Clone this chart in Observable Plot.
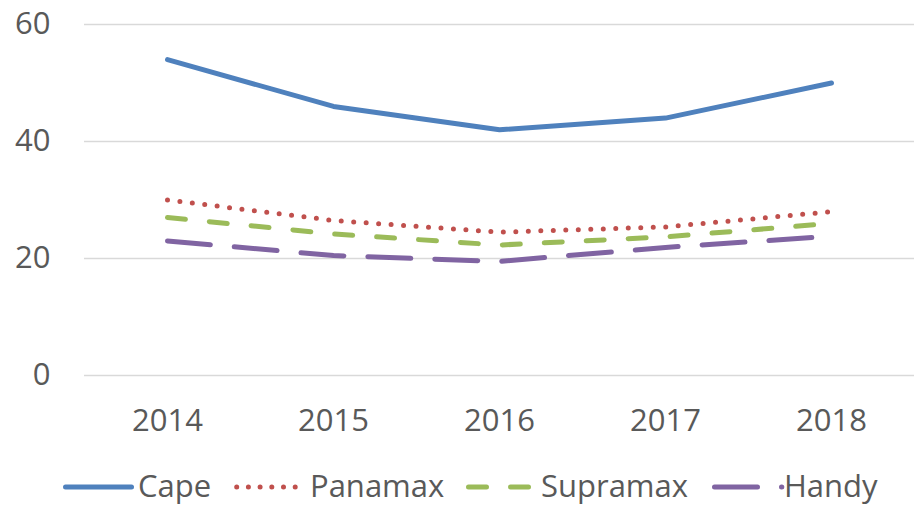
<!DOCTYPE html>
<html><head><meta charset="utf-8">
<script src="https://cdn.jsdelivr.net/npm/d3@7"></script>
<script src="https://cdn.jsdelivr.net/npm/@observablehq/plot@0.6"></script>
<style>
body{margin:0;background:#fff;font-family:"Open Sans",sans-serif;}
#chart{width:914px;}
#legend{display:block;}
</style></head><body><div id="chart"></div>
<script>
const years = ["2014","2015","2016","2017","2018"];
const seriesNames = ["Cape","Panamax","Supramax","Handy"];
const cape = [54, 46, 42, 44, 50];
const panamax = [30, 26.5, 24.5, 25.4, 28];
const supramax = [27, 24.2, 22.3, 23.7, 26];
const handy = [23, 20.5, 19.5, 21.9, 23.8];
const yTicks = [0, 20, 40, 60];

const seriesValues = [cape, panamax, supramax, handy];
const colors = ["#4f81bd", "#c0504d", "#9bbb59", "#8064a2"];
const dashes = [null, "0 12.5", "18 24", "43 24"];

const data = [];
seriesNames.forEach((s, i) => years.forEach((y, j) => data.push({series: s, year: y, value: seriesValues[i][j]})));

const font = '"Open Sans", sans-serif';
const chart = Plot.plot({
  width: 914,
  height: 455,
  marginTop: 24,
  marginBottom: 80,
  marginLeft: 84,
  marginRight: 0,
  style: {fontFamily: font, fontSize: "31px", color: "#595959", background: "#fff"},
  x: {type: "point", domain: years, padding: 0.5},
  y: {domain: [0, 60]},
  marks: [
    Plot.gridY(yTicks, {stroke: "#d9d9d9", strokeOpacity: 1, strokeWidth: 1.5}),
    Plot.axisY(yTicks, {tickSize: 0, tickPadding: 34, label: null, fontSize: 31}),
    Plot.axisX({tickSize: 0, tickPadding: 33, label: null, fontSize: 31}),
    ...seriesNames.map((s, i) => Plot.line(data.filter(d => d.series === s), {
      x: "year", y: "value", stroke: colors[i], strokeWidth: 5,
      strokeDasharray: dashes[i], strokeLinecap: "round", strokeLinejoin: "round",
      curve: "linear"
    }))
  ]
});
document.getElementById("chart").appendChild(chart);

// Legend below the chart
const legendItems = [
  {x1: 65.5, x2: 131.5, tx: 138},
  {x1: 236.7, x2: 295.3, tx: 310},
  {x1: 468.5, x2: 528.5, tx: 541},
  {x1: 714.5, x2: 781.8, tx: 784}
];
const svg = d3.select("#chart").append("svg")
  .attr("id", "legend").attr("width", 914).attr("height", 50)
  .style("font-family", font);
seriesNames.forEach((s, i) => {
  const it = legendItems[i];
  const ln = svg.append("line").attr("x1", it.x1).attr("x2", it.x2).attr("y1", 32).attr("y2", 32)
    .attr("stroke", colors[i]).attr("stroke-width", 5).attr("stroke-linecap", "round");
  if (dashes[i]) ln.attr("stroke-dasharray", i === 1 ? "0 11.7" : dashes[i]);
  svg.append("text").attr("x", it.tx).attr("y", 42).attr("fill", "#595959")
    .attr("font-size", 31).text(s);
});
</script>
</body></html>
